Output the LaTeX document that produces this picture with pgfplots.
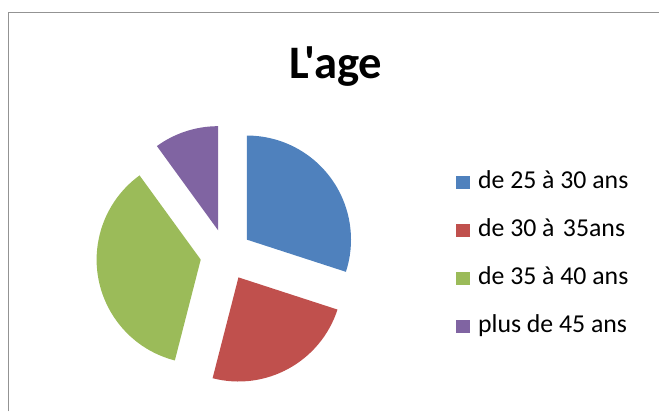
\documentclass[border=0pt]{standalone}
\usepackage{fontspec}
\setmainfont{Carlito}
\newfontfamily\titlefont{Carlito}
\usepackage{pgfplots}
\usepackage{pgfplotstable}
\pgfplotsset{compat=1.18}
\definecolor{c1}{HTML}{4F81BD}
\definecolor{c2}{HTML}{C0504D}
\definecolor{c3}{HTML}{9BBB59}
\definecolor{c4}{HTML}{8064A2}
\def\slicecolor#1{\ifcase#1 c1\or c2\or c3\or c4\fi}
\pgfplotsset{sqlegend/.style={legend image code/.code={\fill[##1, draw=none] (0pt,-6.5pt) rectangle (14pt,6.5pt);}}}

\pgfplotstableread{
idx value
0 30
1 24
2 36
3 10
}\agedata

\begin{document}
\begin{tikzpicture}
\begin{axis}[
  width=660pt, height=410pt, scale only axis,
  xmin=0, xmax=660, ymin=0, ymax=410,
  hide axis, clip=false,
  legend style={at={(axis cs:457,240)}, anchor=north west, draw=none, fill=none,
    font=\fontsize{26}{31}\selectfont, row sep=24.3pt, column sep=8pt,
    nodes={inner sep=0pt, text height=18pt, text depth=6pt}},
  legend cell align=left,
]
\path (axis cs:0,0) rectangle (axis cs:660,410);
\draw[gray!85, line width=1.4pt] (axis cs:8.7,-5) -- (axis cs:8.7,397.3) -- (axis cs:665,397.3);
\node[anchor=base, inner sep=0pt] at (axis cs:339,330.7) {\titlefont\fontsize{47}{56}\selectfont\bfseries L'age};

\def\startang{90}
\pgfplotsforeachungrouped \i in {0,...,3} {%
  \pgfplotstablegetelem{\i}{value}\of\agedata
  \pgfmathsetmacro\endang{\startang-3.6*\pgfplotsretval}%
  \pgfmathsetmacro\midang{(\startang+\endang)/2}%
  \pgfmathsetmacro\vx{228+26*cos(\midang)}%
  \pgfmathsetmacro\vy{153+26*sin(\midang)}%
  \pgfmathsetmacro\ax{\vx+105*cos(\startang)}%
  \pgfmathsetmacro\ay{\vy+105*sin(\startang)}%
  \edef\cmd{\noexpand\fill[\slicecolor{\i}] (axis cs:\vx,\vy) -- (axis cs:\ax,\ay) arc[start angle=\startang, end angle=\endang, radius=105pt] -- cycle;}%
  \cmd
  \let\startang\endang
}

\addlegendimage{sqlegend, fill=c1}\addlegendentry{de 25 à 30 ans}
\addlegendimage{sqlegend, fill=c2}\addlegendentry{de 30 à\hspace{0.1em} 35ans}
\addlegendimage{sqlegend, fill=c3}\addlegendentry{de 35 à 40 ans}
\addlegendimage{sqlegend, fill=c4}\addlegendentry{plus de 45 ans}
\end{axis}
\useasboundingbox (current axis.south west) rectangle (current axis.north east);
\end{tikzpicture}
\end{document}
